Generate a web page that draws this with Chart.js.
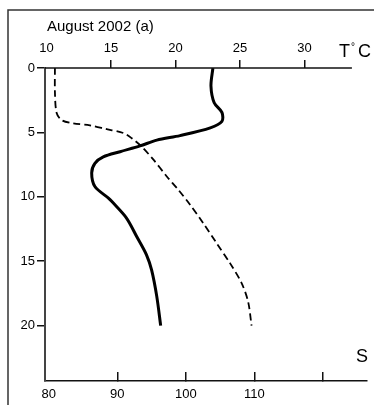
<!DOCTYPE html>
<html>
<head>
<meta charset="utf-8">
<script src="https://cdn.jsdelivr.net/npm/chart.js@4.4.0/dist/chart.umd.min.js"></script>
<style>
  html, body { margin: 0; padding: 0; background: #fff; }
</style>
</head>
<body>
<canvas id="profile" width="374" height="405"></canvas>
<script>
// axis ticks
const depthTicks = [0, 5, 10, 15, 20];
const tempTicks = [10, 15, 20, 25, 30];
const salTicks = [80, 90, 100, 110, 120];
const salLabels = ['80', '90', '100', '110', ''];

// solid curve: temperature (top axis) vs depth
const tempDepth = [0, 1.4, 2.7, 3.45, 4.15, 4.65, 5.25, 5.6, 6.05, 6.5, 6.9, 7.4, 8.15, 9.2, 10.1, 10.35, 11.65, 13.1, 14.5, 15.7, 17.75, 20];
const tempValues = [22.9, 22.75, 23.0, 23.6, 23.6, 22.7, 20.35, 18.55, 17.25, 15.7, 14.4, 13.75, 13.5, 13.75, 14.8, 15.05, 16.2, 17.0, 17.75, 18.15, 18.55, 18.85];

// dashed curve: S (bottom axis) vs depth
const salDepth = [0, 1.9, 3.5, 4.05, 4.3, 4.45, 4.75, 5.05, 5.45, 6.1, 7.1, 8.4, 9.45, 10.6, 12.05, 13.6, 15.15, 16.7, 18.15, 20];
const salValues = [80.9, 80.9, 81.15, 81.9, 83.6, 86.0, 88.45, 90.9, 92.1, 93.55, 95.25, 97.2, 98.9, 100.6, 102.55, 104.5, 106.45, 108.15, 109.1, 109.6];

const FONT = 'Liberation Sans, Arial, sans-serif';
const INK = '#111';
const NONE = 'rgba(0,0,0,0)';

function pairs(xs, ys) {
  return xs.map(function (x, i) { return { x: x, y: ys[i] }; });
}

const framePlugin = {
  id: 'frame',
  afterDraw: function (chart) {
    const ctx = chart.ctx;
    const area = chart.chartArea;
    const top = chart.scales.x2;
    ctx.save();
    // outer frame (left + top)
    ctx.strokeStyle = '#333';
    ctx.lineWidth = 1.5;
    ctx.beginPath();
    ctx.moveTo(8, 405);
    ctx.lineTo(8, 10);
    ctx.lineTo(374, 10);
    ctx.stroke();
    // top temperature axis line, shorter than the plot
    ctx.strokeStyle = INK;
    ctx.lineWidth = 1.5;
    ctx.beginPath();
    ctx.moveTo(area.left, area.top);
    ctx.lineTo(top.getPixelForValue(33.68), area.top);
    ctx.stroke();
    // texts
    ctx.fillStyle = '#000';
    ctx.textBaseline = 'alphabetic';
    ctx.textAlign = 'left';
    ctx.font = '15px ' + FONT;
    ctx.fillText('August 2002 (a)', 47, 31);
    ctx.font = '18px ' + FONT;
    ctx.fillText('T', 339, 57);
    ctx.fillText('C', 358, 57);
    ctx.fillText('S', 356, 362);
    ctx.font = '10px ' + FONT;
    ctx.fillText('°', 351, 50);
    ctx.restore();
  }
};

const tickFont = { family: FONT, size: 13 };

new Chart(document.getElementById('profile'), {
  type: 'scatter',
  data: {
    datasets: [{
      label: 'T',
      data: pairs(tempValues, tempDepth),
      xAxisID: 'x2',
      yAxisID: 'y',
      showLine: true,
      borderColor: '#000',
      borderWidth: 3,
      pointRadius: 0,
      tension: 0.3
    }, {
      label: 'S',
      data: pairs(salValues, salDepth),
      xAxisID: 'x',
      yAxisID: 'y',
      showLine: true,
      borderColor: '#000',
      borderWidth: 1.8,
      borderDash: [7, 4],
      pointRadius: 0,
      tension: 0.3
    }]
  },
  options: {
    responsive: false,
    animation: false,
    layout: { padding: { left: 0, right: 7, top: 0, bottom: 0 } },
    plugins: { legend: { display: false }, tooltip: { enabled: false } },
    scales: {
      x: {
        type: 'linear',
        position: 'bottom',
        min: 79.45,
        max: 126.45,
        afterBuildTicks: function (s) { s.ticks = salTicks.map(function (v) { return { value: v }; }); },
        afterFit: function (s) { s.height = 24; },
        grid: {
          drawOnChartArea: false,
          tickLength: -9,
          lineWidth: 1.5,
          color: function (c) { return c.tick && c.tick.value === 80 ? NONE : INK; }
        },
        border: { color: INK, width: 1.5 },
        ticks: {
          autoSkip: false,
          maxRotation: 0,
          padding: 15,
          color: '#000',
          font: tickFont,
          callback: function (v) { return salLabels[salTicks.indexOf(v)]; }
        }
      },
      x2: {
        type: 'linear',
        position: 'top',
        min: 9.88,
        max: 34.85,
        afterBuildTicks: function (s) { s.ticks = tempTicks.map(function (v) { return { value: v }; }); },
        afterFit: function (s) { s.height = 68; },
        grid: {
          drawOnChartArea: false,
          tickLength: 8,
          lineWidth: 1.5,
          color: function (c) { return c.tick && c.tick.value === 10 ? NONE : INK; }
        },
        border: { display: false },
        ticks: {
          autoSkip: false,
          maxRotation: 0,
          padding: 4,
          color: '#000',
          font: tickFont,
          callback: function (v) { return String(v); }
        }
      },
      y: {
        type: 'linear',
        position: 'left',
        reverse: true,
        min: 0,
        max: 24.3,
        afterBuildTicks: function (s) { s.ticks = depthTicks.map(function (v) { return { value: v }; }); },
        afterFit: function (s) { s.width = 45; },
        grid: { drawOnChartArea: false, tickLength: 8, lineWidth: 1.5, color: INK },
        border: { color: '#444', width: 2 },
        ticks: {
          autoSkip: false,
          padding: 2,
          color: '#000',
          font: tickFont,
          callback: function (v) { return String(v); }
        }
      }
    }
  },
  plugins: [framePlugin]
});
</script>
</body>
</html>
